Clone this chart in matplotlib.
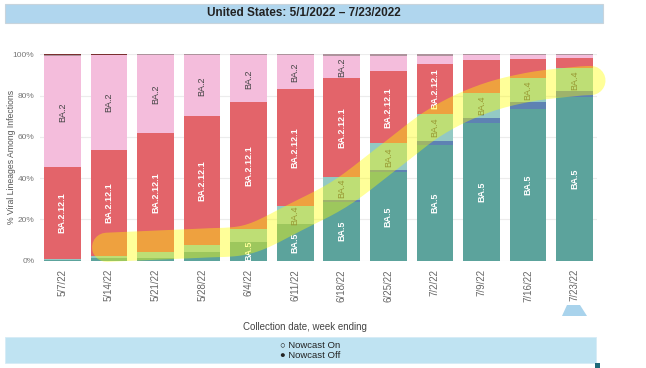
import matplotlib
matplotlib.use("Agg")
import matplotlib.pyplot as plt
from matplotlib.patches import Rectangle, Polygon
import numpy as np

plt.rcParams['font.family'] = ['Liberation Sans', 'DejaVu Sans']

weeks = ["5/7/22", "5/14/22", "5/21/22", "5/28/22", "6/4/22", "6/11/22",
         "6/18/22", "6/25/22", "7/2/22", "7/9/22", "7/16/22", "7/23/22"]

# % share per lineage, bottom to top of each bar
ba5    = [0.3, 1.3, 1.5, 4.0, 9.3, 17.8, 28.5, 42.8, 56.0, 66.8, 73.7, 79.3]
ba46   = [0.0, 0.0, 0.0, 0.0, 0.0, 0.0, 0.9, 1.1, 1.9, 2.2, 3.2, 2.8]
ba4    = [0.7, 1.2, 2.5, 3.7, 6.1, 8.7, 11.1, 12.9, 13.4, 12.3, 11.8, 11.1]
ba2121 = [44.3, 51.1, 58.0, 62.3, 61.4, 56.6, 48.0, 35.1, 24.2, 15.8, 9.2, 5.2]
ba2    = [53.7, 45.9, 37.5, 29.5, 22.7, 16.4, 10.7, 7.3, 3.5, 2.4, 1.6, 1.1]
other  = [0.5, 0.3, 0.5, 0.5, 0.5, 0.5, 0.8, 0.8, 1.0, 0.5, 0.5, 0.5]
ba11   = [0.5, 0.3, 0.0, 0.0, 0.0, 0.0, 0.0, 0.0, 0.0, 0.0, 0.0, 0.0]

# name, values, colour, label colour, label weight, min value to label
series = [
    ("BA.5", ba5, "#5ca39c", "white", "bold", 8),
    ("BA.4.6", ba46, "#5e82b3", None, None, 100),
    ("BA.4", ba4, "#93c9c4", "#555555", "normal", 8),
    ("BA.2.12.1", ba2121, "#e3646a", "white", "bold", 20),
    ("BA.2", ba2, "#f4bddc", "#444444", "normal", 8),
    ("Other", other, "#ad939c", None, None, 100),
    ("BA.1.1", ba11, "#7a2f2f", None, None, 100),
]

# hand-drawn highlighter stroke over the chart (bar index, percent)
hl_x = [0.95, 2.0, 3.0, 4.0, 5.0, 6.0, 7.0, 8.0, 9.0, 10.0, 11.0, 11.35]
hl_y = [6.5, 7.5, 8.5, 10.5, 21.0, 33.0, 50.0, 67.0, 78.0, 84.0, 86.8, 87.3]

W, H = 646, 368
fig = plt.figure(figsize=(W / 100, H / 100), dpi=100)

def fx(px):
    return px / W

def fy(py):
    return 1 - py / H

ax = fig.add_axes([fx(40), fy(260.7), fx(597) - fx(40), fy(54.3) - fy(260.7)])

x = np.arange(len(weeks))
bottom = np.zeros(len(weeks))
for name, vals, col, lcol, lw_, minlab in series:
    vals = np.array(vals)
    ax.bar(x, vals, bottom=bottom, width=0.79, color=col, zorder=2)
    for i, v in enumerate(vals):
        if v >= minlab:
            ax.text(i, bottom[i] + v / 2, name, rotation=90, ha='center', va='center',
                    fontsize=6.5, color=lcol, fontweight=lw_, zorder=3)
    bottom += vals

ax.set_xlim(-0.48, 11.48)
ax.set_ylim(0, 100)
ax.set_yticks(range(0, 101, 20))
ax.set_yticklabels([f"{v}%" for v in range(0, 101, 20)], fontsize=6, color='#777777')
ax.set_xticks(x)
ax.set_xticklabels(weeks, rotation=90, fontsize=7, color='#666666')
ax.tick_params(length=0)
ax.tick_params(axis='x', pad=6)
ax.tick_params(axis='y', pad=4)
ax.yaxis.grid(True, color='#ececec', lw=0.8)
ax.set_axisbelow(True)
for s in ax.spines.values():
    s.set_visible(False)

# highlighter
xs = np.array(hl_x)
ys = np.array(hl_y)
px_, py_ = [], []
for k in range(len(xs) - 1):
    p0 = (xs[max(k - 1, 0)], ys[max(k - 1, 0)])
    p1 = (xs[k], ys[k])
    p2 = (xs[k + 1], ys[k + 1])
    p3 = (xs[min(k + 2, len(xs) - 1)], ys[min(k + 2, len(xs) - 1)])
    for t in np.linspace(0, 1, 12, endpoint=False):
        t2, t3 = t * t, t * t * t
        for arr, j in ((px_, 0), (py_, 1)):
            arr.append(0.5 * (2 * p1[j] + (-p0[j] + p2[j]) * t
                              + (2 * p0[j] - 5 * p1[j] + 4 * p2[j] - p3[j]) * t2
                              + (-p0[j] + 3 * p1[j] - 3 * p2[j] + p3[j]) * t3))
px_.append(xs[-1])
py_.append(ys[-1])
ax.plot(px_, py_, color='#ffff00', alpha=0.4, lw=21, solid_capstyle='round',
        solid_joinstyle='round', clip_on=False, zorder=6)

# title box
fig.patches.append(Rectangle((fx(5), fy(23)), fx(603) - fx(5), fy(4) - fy(23),
                             transform=fig.transFigure, facecolor='#b0d6ee',
                             edgecolor='#c8d4dc', lw=0.8))
fig.text(fx(304), fy(13.5), "United States: 5/1/2022 \u2013 7/23/2022", ha='center',
         va='center', fontsize=8.5, color='#222222', fontweight='semibold')

fig.text(fx(12), fy(157), "% Viral Lineages Among Infections", rotation=90,
         ha='center', va='center', fontsize=6.2, color='#555555')
fig.text(fx(305), fy(326.5), "Collection date, week ending", ha='center', va='center',
         fontsize=7, color='#444444')

fig.patches.append(Polygon([(fx(567), fy(305)), (fx(580), fy(305)), (fx(587), fy(316)),
                            (fx(562), fy(316))], closed=True, transform=fig.transFigure,
                           facecolor='#a9d3ec', edgecolor='none'))

# nowcast box
fig.patches.append(Rectangle((fx(5), fy(363.3)), fx(596) - fx(5), fy(337.3) - fy(363.3),
                             transform=fig.transFigure, facecolor='#bfe3f2',
                             edgecolor='#d6ecf6', lw=0.6))
fig.text(fx(280), fy(345.5), "\u25cb Nowcast On", ha='left', va='center', fontsize=6.8,
         color='#222222')
fig.text(fx(280), fy(355), "\u25cf Nowcast Off", ha='left', va='center', fontsize=6.8,
         color='#222222')
fig.patches.append(Rectangle((fx(595), fy(368)), fx(600) - fx(595), fy(362.5) - fy(368),
                             transform=fig.transFigure, facecolor='#1f6a7a',
                             edgecolor='none'))

fig.savefig("out.png", dpi=100)
